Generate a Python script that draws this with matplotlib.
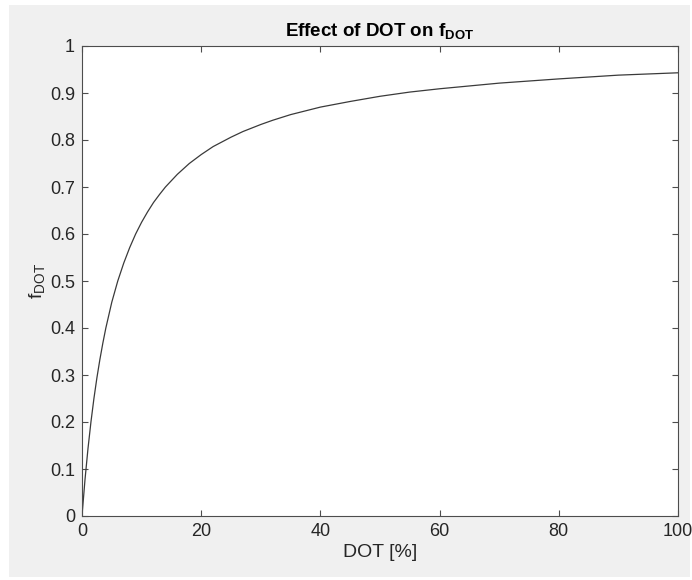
import matplotlib
matplotlib.use("Agg")
import matplotlib.pyplot as plt
from matplotlib.patches import Rectangle

# Values
dot = [0, 0.5, 1, 1.5, 2, 2.5, 3, 3.5, 4, 5, 6, 7, 8, 9, 10, 11, 12, 13, 14, 16,
       18, 20, 22, 25, 27, 30, 32, 35, 40, 45, 50, 55, 60, 70, 80, 90, 100]
f_dot = [0, 0.077, 0.143, 0.20, 0.25, 0.294, 0.333, 0.368, 0.40, 0.455, 0.50,
         0.538, 0.571, 0.60, 0.625, 0.647, 0.667, 0.684, 0.70, 0.727, 0.75,
         0.769, 0.786, 0.806, 0.818, 0.833, 0.842, 0.854, 0.870, 0.882, 0.893,
         0.902, 0.909, 0.921, 0.930, 0.938, 0.943]
xticks = [0, 20, 40, 60, 80, 100]
yticks = [0, 0.1, 0.2, 0.3, 0.4, 0.5, 0.6, 0.7, 0.8, 0.9, 1]
yticklabels = ["0", "0.1", "0.2", "0.3", "0.4", "0.5", "0.6", "0.7", "0.8", "0.9", "1"]

plt.rcParams['font.family'] = ['Liberation Sans', 'DejaVu Sans']
plt.rcParams['mathtext.fontset'] = 'custom'
plt.rcParams['mathtext.rm'] = 'Liberation Sans'
plt.rcParams['mathtext.it'] = 'Liberation Sans'
plt.rcParams['mathtext.bf'] = 'Liberation Sans:bold'

W, H = 692, 580
fig = plt.figure(figsize=(W / 100, H / 100), dpi=100, facecolor='white')
fig.patches.append(Rectangle((9 / W, 3 / H), 681 / W, 572 / H, transform=fig.transFigure,
                             facecolor='#f0f0f0', edgecolor='none', zorder=-10))

ax = fig.add_axes([82 / W, 1 - 516 / H, (678 - 82) / W, (516 - 46) / H])
ax.plot(dot, f_dot, color='#3a3a3a', lw=0.9)
ax.set_xlim(0, 100)
ax.set_ylim(0, 1)
ax.set_xticks(xticks)
ax.set_xticklabels([str(t) for t in xticks])
ax.set_yticks(yticks)
ax.set_yticklabels(yticklabels)
ac = '#262626'
for s in ax.spines.values():
    s.set_color('#4d4d4d')
    s.set_linewidth(0.8)
ax.tick_params(direction='in', length=4.3, width=0.8, color='#4d4d4d', labelcolor=ac,
               labelsize=13, top=True, right=True, pad=5)
ax.set_xlabel('DOT [%]', fontsize=14, color=ac, labelpad=3)
ax.set_ylabel(r'$\mathregular{f_{DOT}}$', fontsize=14, color=ac, labelpad=2)
ax.set_title(r'Effect of DOT on $\mathbf{f_{DOT}}$', fontsize=13.5, fontweight='bold',
             color='black', pad=7)

fig.savefig('out.png', dpi=100, facecolor=fig.get_facecolor())
